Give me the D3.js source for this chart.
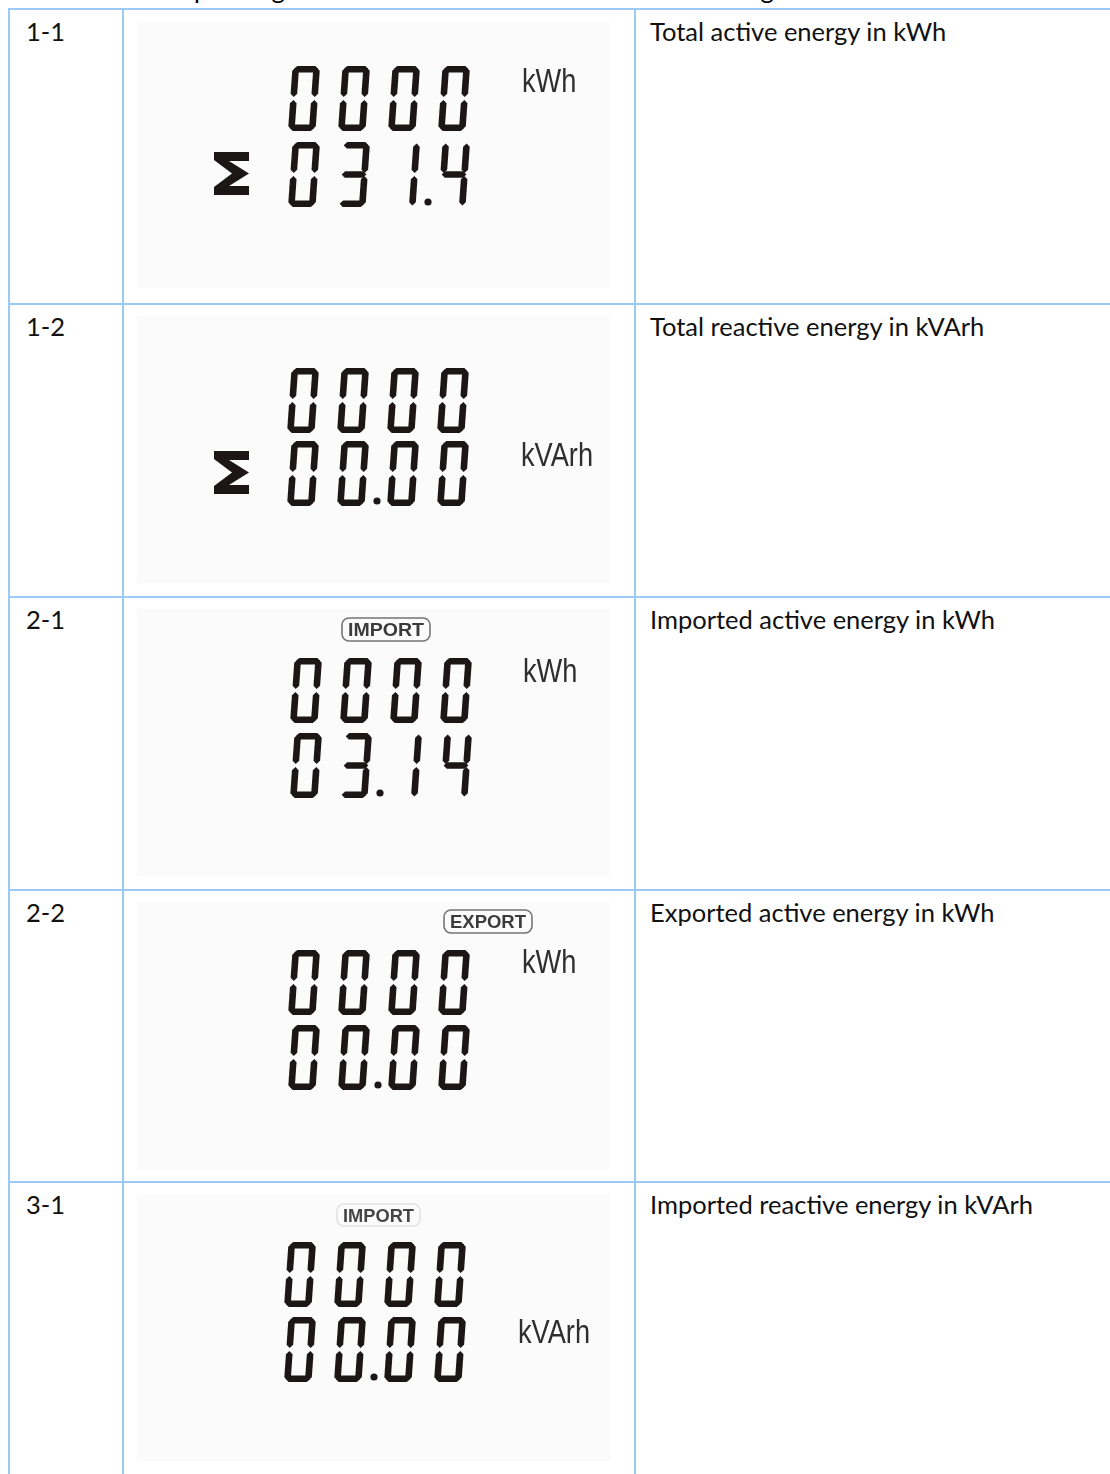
<!DOCTYPE html>
<html><head><meta charset="utf-8">
<script src="https://cdn.jsdelivr.net/npm/d3@7"></script>
<style>html,body{margin:0;padding:0;background:#fff;} svg{display:block;}</style>
</head><body>
<div id="chart"></div>
<script>
// ---------------- data ----------------
const rowIds = ["1-1", "1-2", "2-1", "2-2", "3-1"];
const descriptions = [
  "Total active energy in kWh",
  "Total reactive energy in kVArh",
  "Imported active energy in kWh",
  "Exported active energy in kWh",
  "Imported reactive energy in kVArh"
];
const topReadings = ["0000", "0000", "0000", "0000", "0000"];
const bottomReadings = ["031.4", "00.00", "03.14", "00.00", "00.00"];
const unitLabels = ["kWh", "kVArh", "kWh", "kWh", "kVArh"];
const badgeLabels = ["", "", "IMPORT", "EXPORT", "IMPORT"];
const sigmaShown = [true, true, false, false, false];
const introText = "The corresponding screens on the meter indicate the following";

// ---------------- layout ----------------
const W = 1110, H = 1474;
const lineColor = "#9ccaf6";
const rowTops = [9, 304, 597, 890, 1182];
const colX = [9, 123, 635];
// per-row lcd placement (absolute)
const lcdLayout = [
  {dx: 288, top: 66,   bot: 142,  unitX: 522, badge: null},
  {dx: 287, top: 368,  bot: 441,  unitX: 521, badge: null},
  {dx: 290, top: 658,  bot: 733,  unitX: 523, badge: {x: 342, y: 618, w: 88, h: 23, stroke: "#747474", fill: "#3a3a3a"}},
  {dx: 288, top: 950,  bot: 1025, unitX: 522, badge: {x: 444, y: 910, w: 88, h: 23, stroke: "#747474", fill: "#3a3a3a"}},
  {dx: 284, top: 1242, bot: 1317, unitX: 518, badge: {x: 337, y: 1204, w: 83, h: 22, stroke: "#e2e2e2", fill: "#454545"}}
];
const unitTops = [67, 441, 657, 948, 1318];

const rowScale = d3.scaleOrdinal().domain(rowIds).range(rowTops);

const svg = d3.select("#chart").append("svg")
  .attr("width", W).attr("height", H)
  .attr("font-family", "Lato, 'Open Sans', sans-serif");

const defs = svg.append("defs");
defs.append("filter").attr("id", "soft")
  .append("feGaussianBlur").attr("stdDeviation", 0.55);

// intro line (cut off at top, as in the reference)
svg.append("text").attr("x", 76).attr("y", -1)
  .attr("font-size", 25.5).attr("fill", "#000").text(introText);

// LCD backgrounds
svg.append("g").selectAll("rect").data(rowIds).join("rect")
  .attr("x", 137).attr("width", 473)
  .attr("y", d => rowScale(d) + 12).attr("height", 267)
  .attr("fill", "#fbfbfb");

// table lines
const grid = svg.append("g").attr("stroke", lineColor).attr("stroke-width", 2);
grid.selectAll("line.h").data(rowIds).join("line").attr("class", "h")
  .attr("x1", 8).attr("x2", W)
  .attr("y1", d => rowScale(d)).attr("y2", d => rowScale(d));
grid.selectAll("line.v").data(colX).join("line").attr("class", "v")
  .attr("x1", d => d).attr("x2", d => d)
  .attr("y1", rowTops[0]).attr("y2", H);

// row labels and descriptions
svg.append("g").selectAll("text").data(rowIds).join("text")
  .attr("x", 26).attr("y", d => rowScale(d) + 32)
  .attr("font-size", 25.5).attr("fill", "#111").text(d => d);
svg.append("g").selectAll("text").data(descriptions).join("text")
  .attr("x", 650).attr("y", (d, i) => rowScale(rowIds[i]) + 32)
  .attr("font-size", 25.5).attr("fill", "#111").text(d => d);

// ---------------- seven segment digits ----------------
const DW = 27.5, DH = 65, T = 6.6, G = 1.4, SL = 0.07, PITCH = 50;
const segMap = {"0":"abcdef","1":"bc","2":"abged","3":"abgcd","4":"fgbc","5":"afgcd",
  "6":"afgedc","7":"abc","8":"abcdefg","9":"abcdfg"," ":""};
function hSeg(cy) {
  return [[G, cy], [G + T/2, cy - T/2], [DW - G - T/2, cy - T/2], [DW - G, cy],
          [DW - G - T/2, cy + T/2], [G + T/2, cy + T/2]];
}
function vSeg(cx, y0, y1) {
  return [[cx, y0], [cx + T/2, y0 + T/2], [cx + T/2, y1 - T/2], [cx, y1],
          [cx - T/2, y1 - T/2], [cx - T/2, y0 + T/2]];
}
const segGeom = {
  a: hSeg(T/2),
  g: hSeg(DH/2),
  d: hSeg(DH - T/2),
  f: vSeg(T/2, G, DH/2 - G),
  e: vSeg(T/2, DH/2 + G, DH - G),
  b: vSeg(DW - T/2, G, DH/2 - G),
  c: vSeg(DW - T/2, DH/2 + G, DH - G)
};
const slant = ([x, y]) => [x + (DH - y) * SL, y];
const segLine = d3.line();

function parseReading(s) {
  const out = [];
  for (const ch of s) {
    if (ch === ".") { if (out.length) out[out.length - 1].dp = true; }
    else out.push({ch, dp: false});
  }
  return out;
}

const lcd = svg.append("g").attr("filter", "url(#soft)");

function drawRow(g, reading, x0, y0) {
  const digits = parseReading(reading);
  const xs = d3.scaleLinear().domain([0, 1]).range([x0, x0 + PITCH]);
  const dg = g.append("g").selectAll("g").data(digits).join("g")
    .attr("transform", (d, i) => `translate(${xs(i)},${y0})`);
  dg.selectAll("path").data(d => segMap[d.ch].split("")).join("path")
    .attr("d", s => segLine(segGeom[s].map(slant)) + "Z")
    .attr("fill", "#1b1817");
  dg.filter(d => d.dp).append("circle")
    .attr("cx", 40).attr("cy", DH - 5).attr("r", 3.6).attr("fill", "#1b1817");
}

rowIds.forEach((id, i) => {
  const L = lcdLayout[i];
  const g = lcd.append("g");
  drawRow(g, topReadings[i], L.dx, L.top);
  drawRow(g, bottomReadings[i], L.dx, L.bot);

  // unit
  const uy = unitTops[i] + 25;
  g.append("text")
    .attr("transform", `translate(${L.unitX},${uy}) scale(0.8,1)`)
    .attr("font-family", "'Liberation Sans', Arial, sans-serif")
    .attr("font-size", 34).attr("fill", "#2e2e2e")
    .text(unitLabels[i]);

  // sigma
  if (sigmaShown[i]) {
    const sw = 35, sh = 43, st = 9, sd = 15;
    const sx = 214, sy = L.bot + 10;
    const pts = [[0,0],[sw,0],[sw,st],[sd,st],[sw,sh/2],[sd,sh-st],[sw,sh-st],[sw,sh],[0,sh],[0,sh-st*0.9],[sw-sd-2,sh/2],[0,st*0.9]];
    g.append("path").attr("d", segLine(pts.map(([x,y]) => [sx + x, sy + y])) + "Z")
      .attr("fill", "#1b1817");
  }

  // badge
  if (badgeLabels[i] && L.badge) {
    const b = L.badge;
    g.append("rect").attr("x", b.x).attr("y", b.y).attr("width", b.w).attr("height", b.h)
      .attr("rx", 7).attr("fill", "none").attr("stroke", b.stroke).attr("stroke-width", 1.6);
    g.append("text").attr("x", b.x + b.w / 2).attr("y", b.y + b.h / 2 + 6.5)
      .attr("text-anchor", "middle")
      .attr("font-family", "'Liberation Sans', Arial, sans-serif")
      .attr("font-weight", "bold").attr("font-size", 17.5).attr("fill", b.fill)
      .attr("textLength", b.w - 12).attr("lengthAdjust", "spacingAndGlyphs")
      .text(badgeLabels[i]);
  }
});
</script>
</body></html>
